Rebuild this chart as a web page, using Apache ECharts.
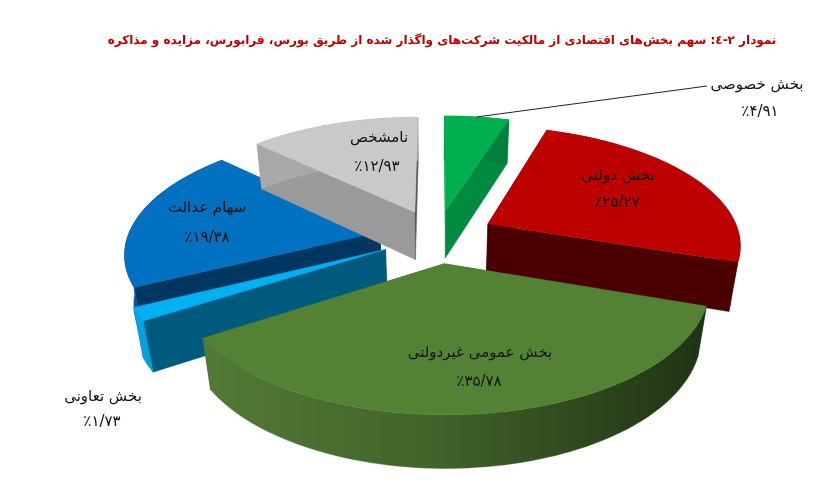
<!DOCTYPE html>
<html lang="fa">
<head>
<meta charset="utf-8">
<style>html,body{margin:0;padding:0;background:#fff}#c{width:821px;height:490px}</style>
<script src="https://cdn.jsdelivr.net/npm/echarts@6/dist/echarts.min.js"></script>
</head>
<body>
<div id="c"></div>
<script>
const titleText = 'نمودار ۲-٤: سهم بخش‌های اقتصادی از مالکیت شرکت‌های واگذار شده از طریق بورس، فرابورس، مزایده و مذاکره';
const categories = ['بخش خصوصی', 'بخش دولتی', 'بخش عمومی غیردولتی', 'بخش تعاونی', 'سهام عدالت', 'نامشخص'];
const shares = [4.91, 25.27, 35.78, 1.73, 19.38, 12.93];
const paintOrder = [5, 0, 4, 3, 1, 2];
const topColors = ['#00b050', '#bd0000', '#548235', '#00b0f0', '#0070c0', '#c9c9c9'];
const startWallColors = ['#00b050', '#4a0000', '#3f6127', '#005a7d', '#003762', '#9a9a9a'];
const endWallColors = ['#008a40', '#4a0000', '#3f6127', '#005a7d', '#003762', '#595959'];
const arcWallStops = [
  ['#00803c', '#00803c'], ['#7a0000', '#4a0000'], ['#537a36', '#1f3314'],
  ['#00a4e0', '#0098d0'], ['#00589a', '#004f8a'], ['#a8a8a8', '#a8a8a8']
];
const labelCentres = [
  [[757, 85], [760, 112]], [[618, 176], [617, 203]], [[480, 353], [479, 382]],
  [[103, 397], [102, 422]], [[207, 208], [207, 238]], [[379, 138], [377, 167]]
];
const leaderEnd = [707, 86];

const view = { cx: 437, cy: 236, rx: 252, ry: 117, persp: 0.16, depth: 50, depthPersp: 0.03, explode: 0.23 };
const faDigits = '۰۱۲۳۴۵۶۷۸۹';
const toFa = v => '٪' + v.toFixed(2).replace('.', '/').replace(/\d/g, d => faDigits[d]);
const total = shares.reduce((a, b) => a + b, 0);
const project = (u, v, z) => {
  const w = 1 + view.persp * v + view.depthPersp * z;
  return [view.cx + view.rx * u / w, view.cy - view.ry * v / w + view.depth * z / w];
};

function renderItem(params, api) {
  const i = params.dataIndex;
  let before = 0;
  for (let k = 0; k < i; k++) before += shares[k];
  const a0 = before / total * Math.PI * 2;
  const a1 = (before + api.value(0)) / total * Math.PI * 2;
  const mid = (a0 + a1) / 2;
  const ou = view.explode * Math.sin(mid), ov = view.explode * Math.cos(mid);
  const rim = z => {
    const n = Math.max(3, Math.ceil((a1 - a0) / 0.03));
    const out = [];
    for (let k = 0; k <= n; k++) {
      const t = a0 + (a1 - a0) * k / n;
      out.push(project(ou + Math.sin(t), ov + Math.cos(t), z));
    }
    return out;
  };
  const top = rim(0), bottom = rim(1);
  const apexT = project(ou, ov, 0), apexB = project(ou, ov, 1);
  const base = paintOrder[i] * 10;
  const poly = (points, fill, z2) => ({
    type: 'polygon', z2, silent: true,
    shape: { points },
    style: { fill, stroke: fill, lineWidth: 0.4 }
  });
  const xs = top.map(p => p[0]);
  const x0 = Math.min(...xs), x1 = Math.max(...xs);
  const grad = new echarts.graphic.LinearGradient(0, 0, 1, 0, [
    { offset: 0, color: arcWallStops[i][0] },
    { offset: 0.45, color: i === 2 ? '#42632a' : arcWallStops[i][0] },
    { offset: 1, color: arcWallStops[i][1] }
  ]);
  const children = [
    poly([apexT, top[0], bottom[0], apexB], startWallColors[i], base),
    poly([apexT, top[top.length - 1], bottom[bottom.length - 1], apexB], endWallColors[i], base + 1),
    poly(top.concat(bottom.slice().reverse()), grad, base + 2),
    poly([apexT].concat(top), topColors[i], base + 3)
  ];
  const font = '15px "DejaVu Sans"';
  [categories[i], toFa(api.value(0))].forEach((text, k) => {
    children.push({
      type: 'text', z2: 200, silent: true,
      style: {
        text, x: labelCentres[i][k][0], y: labelCentres[i][k][1],
        fill: '#111', font, align: 'center', verticalAlign: 'middle'
      }
    });
  });
  if (i === 0) {
    const a = (a0 + a1) / 2;
    const from = project(ou + Math.sin(a), ov + Math.cos(a), 0);
    children.push({
      type: 'line', z2: 201, silent: true,
      shape: { x1: from[0], y1: from[1], x2: leaderEnd[0], y2: leaderEnd[1] },
      style: { stroke: '#222', lineWidth: 1 }
    });
  }
  return { type: 'group', children };
}

const chart = echarts.init(document.getElementById('c'), null, { renderer: 'canvas' });
chart.setOption({
  backgroundColor: '#fff',
  animation: false,
  title: {
    text: titleText,
    left: 437, top: 30, textAlign: 'center',
    textStyle: { color: '#c00000', fontFamily: 'DejaVu Sans', fontSize: 12, fontWeight: 'bold' }
  },
  series: [{
    type: 'custom',
    coordinateSystem: 'none',
    data: shares.map(v => [v]),
    renderItem
  }]
});
</script>
</body>
</html>
